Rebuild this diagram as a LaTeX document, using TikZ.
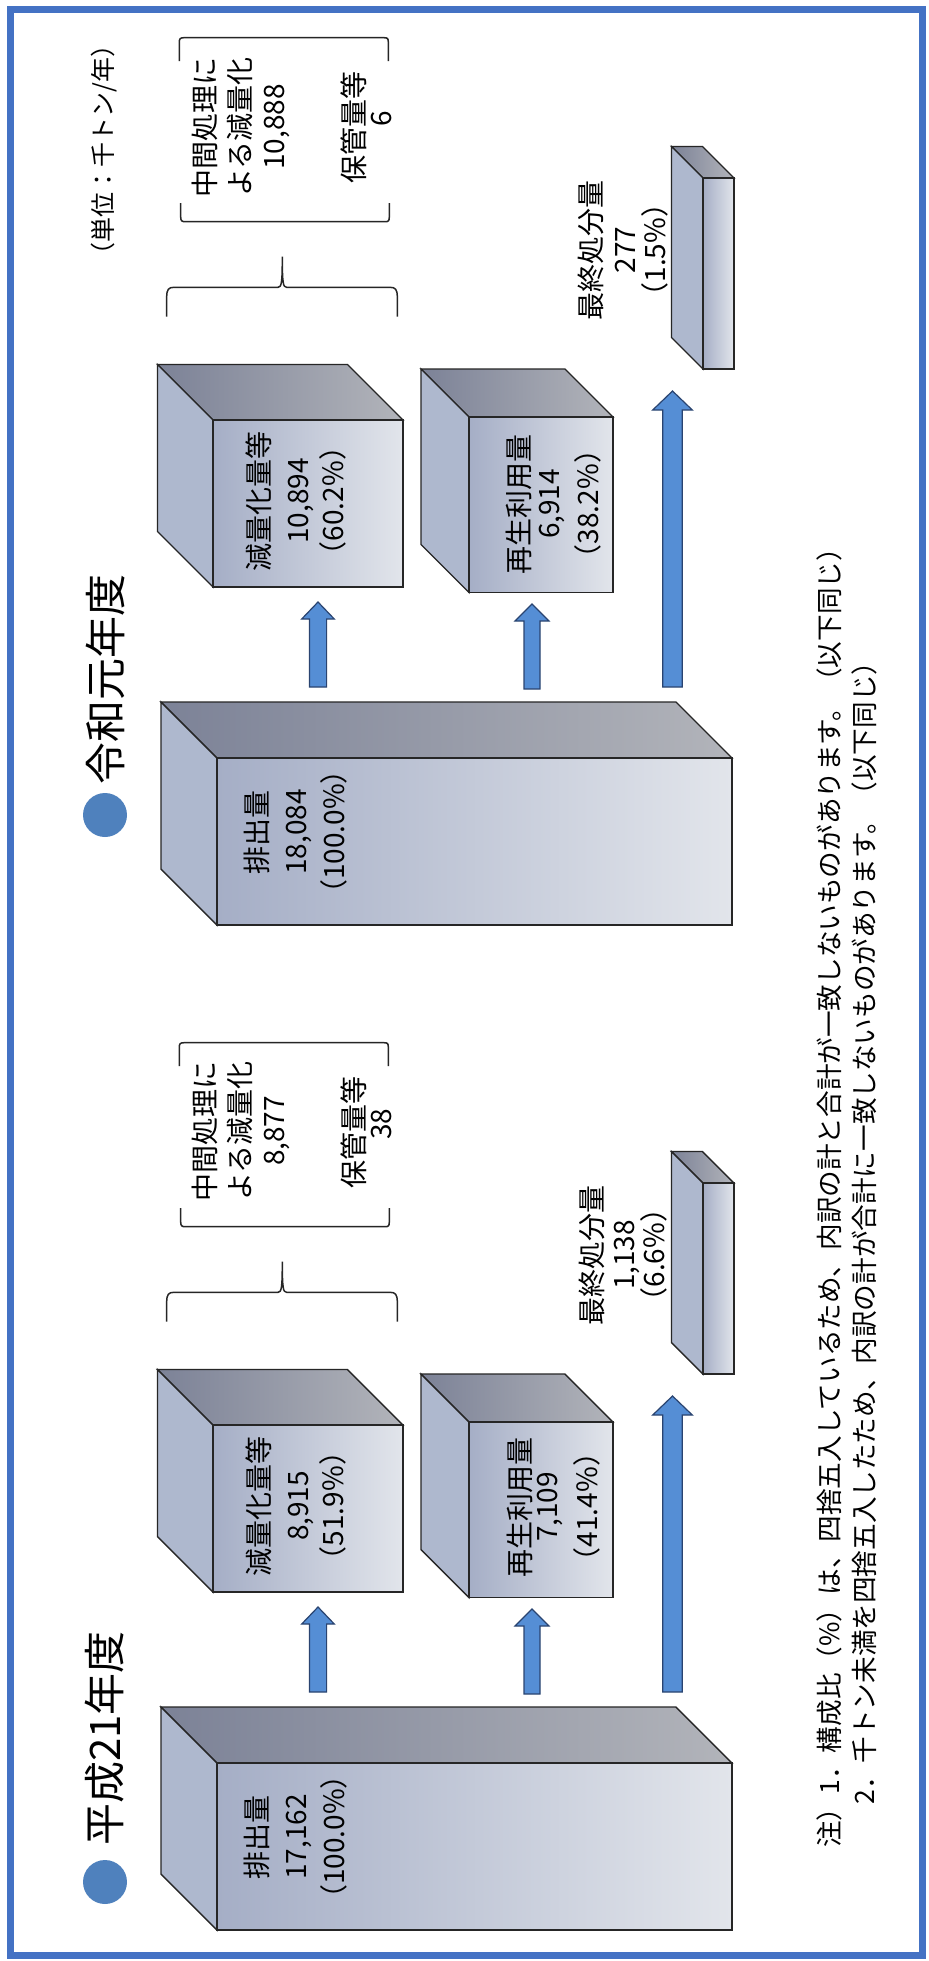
\documentclass[tikz,border=0pt]{standalone}
\usepackage{fontspec}
\setmainfont{Noto Sans CJK JP}
\definecolor{frameblue}{HTML}{4472C4}
\definecolor{bulletblue}{HTML}{4F81BD}
\definecolor{arrowBlue}{HTML}{558ED5}
\definecolor{arrowEdge}{HTML}{2A4470}
\definecolor{topL}{HTML}{7C8297}
\definecolor{topR}{HTML}{B2B4BA}
\definecolor{sideC}{HTML}{AEB8CE}
\definecolor{frontL}{HTML}{A5AEC6}
\definecolor{frontR}{HTML}{E2E5EB}
\newcommand\drawcuboid[5]{%
  \draw[topface] (#1,#2) -- ({#1-#5},{#2-#5}) -- ({#3-#5},{#2-#5}) -- (#3,#2) -- cycle;
  \draw[sideface] (#1,#2) -- ({#1-#5},{#2-#5}) -- ({#1-#5},{#4-#5}) -- (#1,#4) -- cycle;
  \draw[frontface] (#1,#2) rectangle (#3,#4);}
\newcommand\blockarrow[6]{%
  \draw[barrow] ({#1-#6},#4) -- ({#1-#6},#3) -- ({#1-#5},#3) -- (#1,#2) -- ({#1+#5},#3) -- ({#1+#6},#3) -- ({#1+#6},#4) -- cycle;}
\newcommand\groupgeometry{%
  \drawcuboid{217}{1763}{732}{1930}{56}
  \drawcuboid{213}{1425}{403}{1592}{55.5}
  \drawcuboid{469}{1422}{613}{1597.5}{48}
  \drawcuboid{703}{1183}{734}{1374}{31.5}
  \blockarrow{318}{1607}{1624}{1692}{16.3}{8.6}
  \blockarrow{532}{1609}{1626}{1694}{17}{8}
  \blockarrow{672.5}{1396}{1415}{1692}{19.8}{9.8}
  \draw[bracket] (179.3,1066) -- (179.3,1047) .. controls (179.3,1043.5) and (180.5,1042.7) .. (184,1042.7) -- (384,1042.7) .. controls (387.5,1042.7) and (388.3,1043.5) .. (388.3,1047) -- (388.3,1066);
  \draw[bracket] (180.7,1208) -- (180.7,1222) .. controls (180.7,1225.8) and (181.8,1226.7) .. (185.5,1226.7) -- (385,1226.7) .. controls (388.5,1226.7) and (389.3,1225.8) .. (389.3,1222) -- (389.3,1208);
  \draw[bracket] (166.7,1321.7) -- (166.7,1302) .. controls (166.7,1294.5) and (168.5,1292.3) .. (174,1292.3) -- (278,1292.3) .. controls (281.5,1292.3) and (282.3,1288) .. (282.3,1261.7) .. controls (282.3,1288) and (283.1,1292.3) .. (286.6,1292.3) -- (390,1292.3) .. controls (395.5,1292.3) and (397.3,1294.5) .. (397.3,1302) -- (397.3,1321.7);}
\begin{document}
\begin{tikzpicture}[x=0.5pt,y=-0.5pt,
  edge/.style={draw=black!85, line width=0.7pt},
  topface/.style={edge, left color=topL, right color=topR},
  sideface/.style={edge, fill=sideC},
  frontface/.style={edge, left color=frontL, right color=frontR},
  barrow/.style={draw=arrowEdge, line width=0.6pt, fill=arrowBlue},
  bracket/.style={draw=black!85, line width=0.75pt},
  boxtext/.style={rotate=90, align=center, inner sep=0pt, font=\fontsize{14}{18}\selectfont},
  titletext/.style={rotate=90, anchor=west, inner sep=0pt, font=\fontsize{21}{25}\selectfont},
  notetext/.style={rotate=90, anchor=west, inner sep=0pt, font=\fontsize{13.3}{16}\selectfont},
  unittext/.style={rotate=90, inner sep=0pt, font=\fontsize{12.5}{15}\selectfont}]
\useasboundingbox (0,0) rectangle (928,1961);
\fill[white] (0,0) rectangle (928,1961);
\draw[frameblue, line width=3.5pt] (10,9.5) rectangle (922,1955);
% geometry of both years
\groupgeometry
\begin{scope}[shift={(0,-1005)}]
\groupgeometry
\end{scope}
% titles
\fill[bulletblue] (105,1882) circle [radius=22];
\node[titletext] (t21) at (105,1846) {平成21年度};
\fill[bulletblue] (105,815) circle [radius=22];
\node[titletext] (tr1) at (105,785) {令和元年度};
\node[unittext] (unit) at (104,150) {（単位：千トン/年）};
% H21 texts
\node[boxtext] (h21total) at (296,1837) {排出量\\[1.5pt]17,162\\[1pt]（100.0\%）};
\node[boxtext] (h21red) at (296,1506) {減量化量等\\[1.5pt]8,915\\[-0.5pt]（51.9\%）};
\node[boxtext] (h21rec) at (554,1507) {再生利用量\\[-4.5pt]7,109\\[2pt]（41.4\%）};
\node[boxtext] (h21fin) at (623,1255) {最終処分量\\[-2pt]1,138\\[-3pt]（6.6\%）};
\node[boxtext] (h21mid) at (241,1131) {中間処理に\\[-0.5pt]よる減量化\\[-1pt]8,877};
\node[boxtext] (h21store) at (366.5,1132) {保管量等\\[-4.5pt]\hspace*{8pt}38};
% R1 texts
\node[boxtext] (r1total) at (296,832) {排出量\\[1.5pt]18,084\\[1pt]（100.0\%）};
\node[boxtext] (r1red) at (296,501) {減量化量等\\[1.5pt]10,894\\[-0.5pt]（60.2\%）};
\node[boxtext] (r1rec) at (554,504) {再生利用量\\[-3pt]6,914\\[1.5pt]（38.2\%）};
\node[boxtext] (r1fin) at (623,250) {最終処分量\\[-1pt]277\\[-3pt]（1.5\%）};
\node[boxtext] (r1mid) at (241,127) {中間処理に\\[-0.5pt]よる減量化\\[-1pt]10,888};
\node[boxtext] (r1store) at (366.5,127) {保管量等\\[-4.5pt]\hspace*{8pt}6};
% notes
\node[notetext] (note1) at (829,1848) {注）1．構成比（\%）は、四捨五入しているため、内訳の計と合計が一致しないものがあります。（以下同じ）};
\node[notetext] (note2) at (864,1805) {2．千トン未満を四捨五入したため、内訳の計が合計に一致しないものがあります。（以下同じ）};
\end{tikzpicture}
\end{document}
